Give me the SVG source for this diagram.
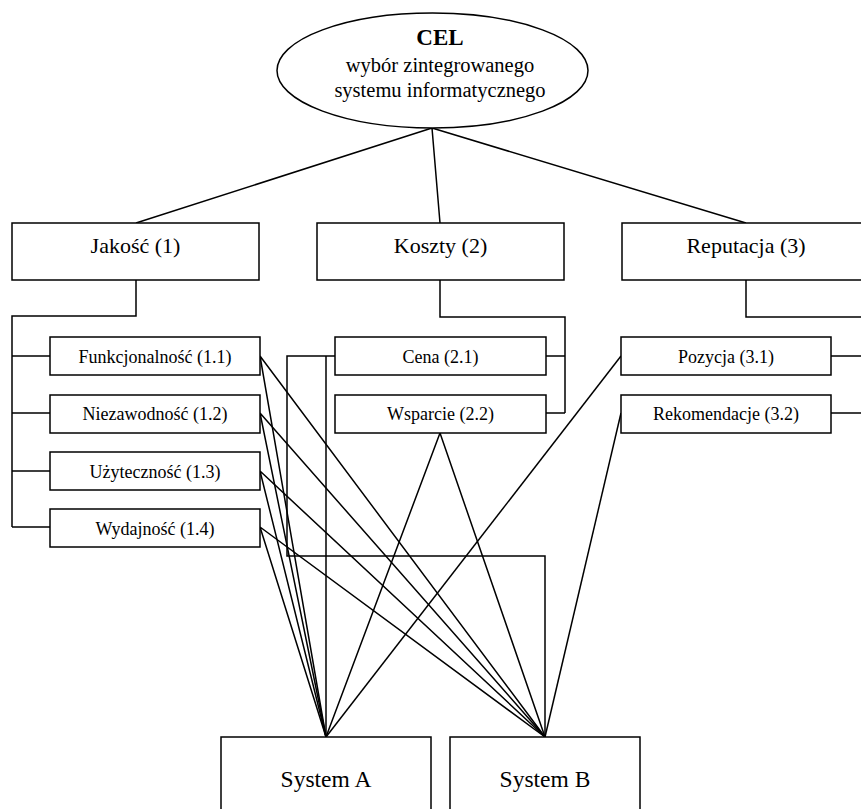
<svg xmlns="http://www.w3.org/2000/svg" width="861" height="809" viewBox="0 0 861 809">
<style>
.box{fill:#fff;stroke:#000;stroke-width:1.5}
.c{fill:none;stroke:#000;stroke-width:1.5}
text{fill:#000;text-anchor:middle}
.t1{font-size:22px}
.t2{font-size:18px}
.t3{font-size:23.5px}
.te{font-size:20.5px}
.tb{font-size:23px;font-weight:bold}
</style>
<rect width="861" height="809" fill="#fff"/>
<g id="connectors">
<path class="c" d="M432,128 L136,223 M432,128 L440,223 M432,128 L746,223"/>
<path class="c" d="M136,280 V316 H12 V527 M12,356 H50 M12,413 H50 M12,471 H50 M12,527 H50"/>
<path class="c" d="M440,280 V317 H565 V413 M546,356 H565 M546,413 H565"/>
<path class="c" d="M746,280 V317 H870 M831,356 H870 M831,413 H870"/>
<path class="c" d="M260,356 L326,737 M260,356 L545,737"/>
<path class="c" d="M260,413 L326,737 M260,413 L545,737"/>
<path class="c" d="M260,471 L326,737 M260,471 L545,737"/>
<path class="c" d="M260,527 L326,737 M260,527 L545,737"/>
<path class="c" d="M335,356 H326 V737 M326,356 H287 V556 H545 V737"/>
<path class="c" d="M440,433 L326,737 M440,433 L545,737"/>
<path class="c" d="M621,356 L326,737"/>
<path class="c" d="M621,413 L545,737"/>
</g>
<g font-family="Liberation Serif, Times New Roman, Tinos, DejaVu Serif, serif">
<g id="cel">
<ellipse class="box" cx="432.5" cy="70.5" rx="155.5" ry="57.5"/>
<text class="tb" x="440" y="45">CEL</text>
<text class="te" x="440" y="72">wybór zintegrowanego</text>
<text class="te" x="440" y="97">systemu informatycznego</text>
</g>
<g id="jakosc">
<rect class="box" x="12" y="223" width="247" height="57"/>
<text class="t1" x="135.5" y="253">Jakość (1)</text>
</g>
<g id="koszty">
<rect class="box" x="317" y="223" width="247" height="57"/>
<text class="t1" x="440.5" y="253">Koszty (2)</text>
</g>
<g id="reputacja">
<rect class="box" x="622" y="223" width="248" height="57"/>
<text class="t1" x="746" y="253">Reputacja (3)</text>
</g>
<g id="n11">
<rect class="box" x="50" y="337" width="210" height="38"/>
<text class="t2" x="155" y="363">Funkcjonalność (1.1)</text>
</g>
<g id="n12">
<rect class="box" x="50" y="395" width="210" height="38"/>
<text class="t2" x="155" y="420">Niezawodność (1.2)</text>
</g>
<g id="n13">
<rect class="box" x="50" y="452" width="210" height="38"/>
<text class="t2" x="155" y="478">Użyteczność (1.3)</text>
</g>
<g id="n14">
<rect class="box" x="50" y="509" width="210" height="38"/>
<text class="t2" x="155" y="535">Wydajność (1.4)</text>
</g>
<g id="n21">
<rect class="box" x="335" y="337" width="211" height="38"/>
<text class="t2" x="440.5" y="363">Cena (2.1)</text>
</g>
<g id="n22">
<rect class="box" x="335" y="395" width="211" height="38"/>
<text class="t2" x="440.5" y="420">Wsparcie (2.2)</text>
</g>
<g id="n31">
<rect class="box" x="621" y="337" width="210" height="38"/>
<text class="t2" x="726" y="363">Pozycja (3.1)</text>
</g>
<g id="n32">
<rect class="box" x="621" y="395" width="210" height="38"/>
<text class="t2" x="726" y="420">Rekomendacje (3.2)</text>
</g>
<g id="systemA">
<rect class="box" x="221" y="737" width="210" height="90"/>
<text class="t3" x="326" y="787">System A</text>
</g>
<g id="systemB">
<rect class="box" x="450" y="737" width="190" height="90"/>
<text class="t3" x="545" y="787">System B</text>
</g>
</g>
</svg>
